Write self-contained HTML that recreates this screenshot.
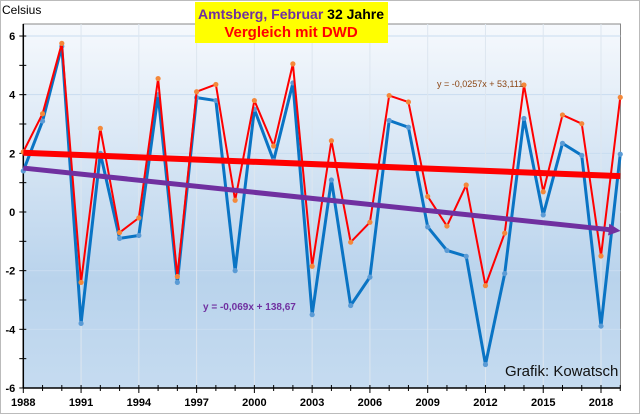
<!DOCTYPE html>
<html><head><meta charset="utf-8"><style>
body{margin:0;background:#fff;font-family:"Liberation Sans",sans-serif}
#wrap{position:relative;width:640px;height:414px;background:#f2f2f2;overflow:hidden}
</style></head><body>
<div id="wrap">
<svg id="chart" width="640" height="414"></svg>
</div>
<script>
const years=[1988,1989,1990,1991,1992,1993,1994,1995,1996,1997,1998,1999,2000,2001,2002,2003,2004,2005,2006,2007,2008,2009,2010,2011,2012,2013,2014,2015,2016,2017,2018,2019];
const amtsberg=[2.05,3.35,5.75,-2.4,2.85,-0.7,-0.2,4.55,-2.2,4.1,4.35,0.4,3.8,2.25,5.05,-1.85,2.43,-1.03,-0.35,3.97,3.75,0.53,-0.48,0.92,-2.51,-0.72,4.33,0.69,3.31,3.01,-1.5,3.91];
const dwd=[1.4,3.1,5.65,-3.8,2.0,-0.9,-0.8,4.0,-2.4,3.9,3.8,-2.0,3.5,1.75,4.4,-3.5,1.09,-3.19,-2.22,3.12,2.89,-0.51,-1.31,-1.51,-5.2,-2.1,3.19,-0.1,2.34,1.93,-3.89,1.97];
const yTicks=[-6,-4,-2,0,2,4,6];
const xTickLabels=[1988,1991,1994,1997,2000,2003,2006,2009,2012,2015,2018];
const redTrend=[-0.0257,53.111];
const purpleTrend=[-0.069,138.67];

const NS="http://www.w3.org/2000/svg";
const svg=document.getElementById('chart');
const L=23.3,R=620.5,T=24,B=388;
const X=y=>L+(y-1988)*(601-23.3)/30;
const Y=v=>212-v*29.33;
function el(t,a,p){const e=document.createElementNS(NS,t);for(const k in a)e.setAttribute(k,a[k]);(p||svg).appendChild(e);return e;}

const defs=el('defs',{});
const g=el('linearGradient',{id:'bg',x1:0,y1:0,x2:0,y2:1},defs);
el('stop',{offset:'0','stop-color':'#f6f9fd'},g);
el('stop',{offset:'0.7','stop-color':'#b9d3ec'},g);
el('stop',{offset:'1','stop-color':'#c5dbf0'},g);
const mk=el('marker',{id:'arr',markerWidth:2.4,markerHeight:2.4,refX:0.2,refY:1.2,orient:'auto',markerUnits:'strokeWidth',viewBox:'0 0 2.4 2.4'},defs);
el('path',{d:'M0,0 L2.4,1.2 L0,2.4 Z',fill:'#7030a0'},mk);

const outer=el('rect',{x:0.5,y:0.5,width:639,height:413,fill:'#fff',stroke:'#bbb'});


const plot=el('rect',{x:L,y:T,width:R-L,height:B-T,fill:'url(#bg)',stroke:'#888','stroke-width':1});



yTicks.forEach(v=>{
  const ln=el('line',{x1:L,x2:R,y1:Y(v),y2:Y(v),stroke:'#c9dcf0','stroke-width':1});
  
  
  const t=el('text',{x:L-8,y:Y(v)+4,'text-anchor':'end','font-size':11,'font-weight':'bold',fill:'#000'});
  t.textContent=v;
  
  
});
for(let v=-6;v<=6;v++){el('line',{x1:L-4,x2:L+3,y1:Y(v),y2:Y(v),stroke:'#000'});}
xTickLabels.forEach(y=>{
  if(y>1988){const ln=el('line',{x1:X(y),x2:X(y),y1:T,y2:B,stroke:'#dde6ef','stroke-width':1});
  
  }
  const t=el('text',{x:X(y),y:406,'text-anchor':'middle','font-size':11,'font-weight':'bold',fill:'#000'});
  t.textContent=y;
  
  
});
years.forEach(y=>{el('line',{x1:X(y),x2:X(y),y1:B-3,y2:B+(y%3===1988%3?5:3),stroke:'#000'});});
el('line',{x1:L,x2:L,y1:T,y2:B,stroke:'#000','stroke-width':1.5});
el('line',{x1:L,x2:R,y1:B,y2:B,stroke:'#000','stroke-width':1.5});

function series(vals,color,dot,name){
  const p=el('polyline',{points:vals.map((v,i)=>X(years[i])+','+Y(v)).join(' '),fill:'none',stroke:color,'stroke-width':color==='#ff0000'?2:3,'stroke-linejoin':'round'});
  
  
  vals.forEach((v,i)=>{const c=el('circle',{cx:X(years[i]),cy:Y(v),r:2.6,fill:dot});
    
    });
}
series(dwd,'#0a74c4','#5b9bd5','dwd');
series(amtsberg,'#ff0000','#f4883a','amtsberg');

const y0=years[0],y1=years[years.length-1];
const rt=el('line',{x1:X(y0),y1:Y(redTrend[0]*y0+redTrend[1]),x2:X(y1),y2:Y(redTrend[0]*y1+redTrend[1]),stroke:'#ff0000','stroke-width':6});


const yEnd=y1-0.55;
const pt=el('line',{x1:X(y0),y1:Y(purpleTrend[0]*y0+purpleTrend[1]),x2:X(yEnd),y2:Y(purpleTrend[0]*yEnd+purpleTrend[1]),stroke:'#7030a0','stroke-width':5,'marker-end':'url(#arr)'});



function txt(x,y,s,a,name){const t=el('text',Object.assign({x:x,y:y},a));t.textContent=s;
  
  return t;}
txt(203,310,'y = -0,069x  + 138,67',{'font-size':10,'font-weight':'bold',fill:'#7030a0'},'dwd-trend-equation');
txt(437,87,'y = -0,0257x + 53,111',{'font-size':9,fill:'#8b4513'},'amtsberg-trend-equation');
txt(505,376,'Grafik: Kowatsch',{'font-size':15,fill:'#111'},'credit-label');
txt(2,14,'Celsius',{'font-size':12,fill:'#000'},'y-axis-title');

const tb=el('rect',{x:195,y:2,width:193,height:41,fill:'#ffff00'});


const t1=txt(291,19,'',{'font-size':14,'font-weight':'bold','text-anchor':'middle'},'chart-title');
const s1=el('tspan',{fill:'#7030a0'},t1);s1.textContent='Amtsberg, Februar ';
const s2=el('tspan',{fill:'#000'},t1);s2.textContent='32 Jahre';
txt(291,37,'Vergleich mit DWD',{'font-size':15,'font-weight':'bold','text-anchor':'middle',fill:'#ff0000'},'chart-subtitle');
</script>
</body></html>
